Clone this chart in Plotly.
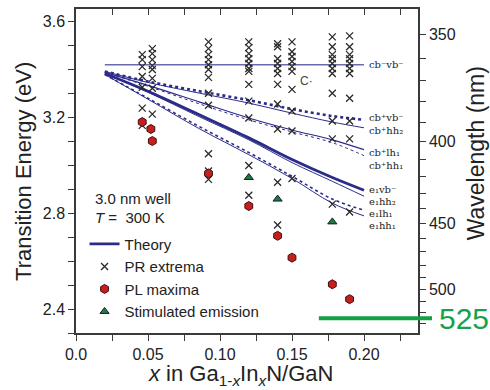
import plotly.graph_objects as go

# ---- Theory curves: transition energy (eV) vs In content x ----
x_theory = [0.02, 0.05, 0.086, 0.12, 0.15, 0.178, 0.20]
cbm_vbm = [3.418, 3.418, 3.418, 3.418, 3.418, 3.418, 3.418]
cbp_vbm = [3.390, 3.348, 3.307, 3.270, 3.233, 3.204, 3.188]
cbp_hh2 = [3.390, 3.344, 3.299, 3.258, 3.216, 3.179, 3.155]
cbp_lh1 = [3.386, 3.332, 3.262, 3.196, 3.146, 3.105, 3.064]
cbp_hh1 = [3.386, 3.328, 3.254, 3.188, 3.138, 3.093, 3.039]
e1_vbm = [3.381, 3.307, 3.208, 3.113, 3.023, 2.948, 2.895]
e1_hh2 = [3.381, 3.303, 3.200, 3.105, 3.010, 2.932, 2.870]
e1_lh1 = [3.377, 3.278, 3.159, 3.052, 2.953, 2.858, 2.812]
e1_hh1 = [3.377, 3.274, 3.150, 3.043, 2.944, 2.841, 2.788]

curve_labels = ["cb⁻vb⁻", "cb⁺vb⁻", "cb⁺hh₂", "cb⁺lh₁", "cb⁺hh₁",
                "e₁vb⁻", "e₁hh₂", "e₁lh₁", "e₁hh₁"]
label_energy = [3.418, 3.196, 3.143, 3.052, 2.998, 2.899, 2.849, 2.800, 2.746]

# ---- Photoreflectance extrema ----
pr_x = ([0.046] * 7 + [0.053] * 8 + [0.092] * 12 + [0.12] * 12 + [0.14] * 11 +
        [0.15] * 10 + [0.178] * 11 + [0.19] * 11)
pr_e = ([3.460, 3.439, 3.410, 3.369, 3.324, 3.237, 3.165] +
        [3.485, 3.464, 3.439, 3.414, 3.398, 3.361, 3.320, 3.212] +
        [3.513, 3.485, 3.460, 3.439, 3.418, 3.398, 3.365, 3.299, 3.249, 3.047, 2.940, 2.975] +
        [3.513, 3.489, 3.464, 3.443, 3.423, 3.402, 3.390, 3.336, 3.266, 3.196, 2.998, 2.874] +
        [3.505, 3.493, 3.443, 3.423, 3.402, 3.381, 3.336, 3.254, 3.150, 2.928, 2.750] +
        [3.513, 3.472, 3.452, 3.431, 3.410, 3.390, 3.315, 3.225, 3.142, 2.944] +
        [3.534, 3.493, 3.460, 3.443, 3.423, 3.402, 3.381, 3.299, 3.183, 3.109, 2.837] +
        [3.538, 3.493, 3.460, 3.443, 3.423, 3.402, 3.381, 3.278, 3.183, 3.109, 2.804])

# ---- Photoluminescence maxima ----
pl_x = [0.046, 0.052, 0.053, 0.092, 0.12, 0.14, 0.15, 0.178, 0.19]
pl_e = [3.179, 3.150, 3.100, 2.965, 2.829, 2.705, 2.614, 2.503, 2.441]

# ---- Stimulated emission ----
se_x = [0.12, 0.14, 0.178]
se_e = [2.948, 2.858, 2.763]

# ---- Axes ----
x_range = [0.0, 0.2375]
e_range = [2.30, 3.65]
x_major = [0.0, 0.05, 0.10, 0.15, 0.20]
x_major_text = ["0.0", "0.05", "0.10", "0.15", "0.20"]
x_minor = [0.025, 0.075, 0.125, 0.175, 0.225]
e_major = [2.4, 2.8, 3.2, 3.6]
e_minor = [2.3, 2.5, 2.6, 2.7, 2.9, 3.0, 3.1, 3.3, 3.4, 3.5]
wl_major = [350, 400, 450, 500]
wl_minor = [360, 370, 380, 390, 410, 420, 430, 440, 460, 470,
            480, 490, 510, 520, 530]
wl_marked = 525

HC = 1239.84  # eV*nm

NAVY = "#2b2b8a"
AX = "#3a3a3a"
FONT = "Liberation Sans, Arial, sans-serif"

fig = go.Figure()

# horizontal cb-vb- level
fig.add_trace(go.Scatter(x=x_theory, y=cbm_vbm, mode="lines",
                         line=dict(color="#6a6aae", width=1.5),
                         showlegend=False, hoverinfo="skip"))

styles = [
    (cbp_vbm, dict(color=NAVY, width=2.6, dash="dot")),
    (cbp_hh2, dict(color=NAVY, width=1.0)),
    (cbp_lh1, dict(color=NAVY, width=1.2)),
    (cbp_hh1, dict(color=NAVY, width=1.0, dash="dot")),
    (e1_vbm, dict(color=NAVY, width=2.8)),
    (e1_hh2, dict(color=NAVY, width=1.0)),
    (e1_lh1, dict(color=NAVY, width=1.6, dash="dot")),
    (e1_hh1, dict(color=NAVY, width=1.0)),
]
for i, (vals, ln) in enumerate(styles):
    fig.add_trace(go.Scatter(x=x_theory, y=vals, mode="lines", line=dict(shape="spline", **ln),
                             name="Theory", showlegend=(i == 4), hoverinfo="skip"))

fig.add_trace(go.Scatter(x=pr_x, y=pr_e, mode="markers", name="PR extrema",
                         marker=dict(symbol="x-thin-open", size=7, color="#2a2a2a",
                                     line=dict(width=1.3, color="#2a2a2a"))))
fig.add_trace(go.Scatter(x=pl_x, y=pl_e, mode="markers", name="PL maxima",
                         marker=dict(symbol="hexagon", size=9, color="#c81e1e",
                                     line=dict(width=1, color="#3a1010"))))
fig.add_trace(go.Scatter(x=se_x, y=se_e, mode="markers", name="Stimulated emission",
                         marker=dict(symbol="triangle-up", size=8, color="#1d7a3c",
                                     line=dict(width=1, color="#112233"))))
# companion axes (top ticks and wavelength scale)
fig.add_trace(go.Scatter(x=[None], y=[None], xaxis="x2", yaxis="y2",
                         showlegend=False, hoverinfo="skip"))

tick_style = dict(ticklen=6, tickwidth=1.3, tickcolor=AX)
axis_line = dict(showline=True, linecolor=AX, linewidth=1.5,
                 showgrid=False, zeroline=False, **tick_style)

fig.update_layout(
    width=490, height=390,
    margin=dict(l=76, r=72, t=7, b=57),
    paper_bgcolor="white", plot_bgcolor="white",
    font=dict(family=FONT, color="#222", size=16),
    xaxis=dict(range=x_range, tickmode="array", tickvals=x_major,
               ticktext=x_major_text, ticks="outside", mirror=True,
               minor=dict(tickvals=x_minor, ticks="outside", **tick_style),
               **axis_line),
    xaxis2=dict(range=x_range, overlaying="x", side="top", anchor="y",
                tickmode="array", tickvals=x_major, ticks="inside",
                showticklabels=False, showline=False, showgrid=False,
                zeroline=False,
                minor=dict(tickvals=x_minor, ticks="inside", **tick_style),
                **tick_style),
    yaxis=dict(range=e_range, tickmode="array", tickvals=e_major,
               ticktext=[f"{t:.1f}" for t in e_major], ticks="outside",
               minor=dict(tickvals=e_minor, ticks="outside", **tick_style),
               **axis_line),
    yaxis2=dict(range=e_range, overlaying="y", side="right", anchor="x",
                tickmode="array", tickvals=[HC / w for w in wl_major],
                ticktext=[str(w) for w in wl_major], ticks="outside",
                minor=dict(tickvals=[HC / w for w in wl_minor], ticks="outside",
                           **tick_style),
                **axis_line),
    legend=dict(x=0.025, y=0.325, xanchor="left", yanchor="top",
                bgcolor="rgba(0,0,0,0)", font=dict(size=15, color="#222"),
                itemwidth=30, tracegroupgap=0),
    showlegend=True,
)

ann = []
# curve labels at the right end of each theory curve
for txt, e in zip(curve_labels, label_energy):
    ann.append(dict(x=0.203, y=e, xref="x", yref="y", text=txt, showarrow=False,
                    xanchor="left", yanchor="middle", borderpad=0,
                    font=dict(size=10, color="#222", family="DejaVu Serif")))
ann.append(dict(x=0.16, y=3.348, xref="x", yref="y", text="C·", showarrow=False,
                font=dict(size=12, color="#444")))
# axis titles
ann.append(dict(x=-0.155, y=0.5, xref="paper", yref="paper", text="Transition Energy (eV)",
                textangle=-90, showarrow=False, xanchor="center", yanchor="middle",
                font=dict(size=22, color="#222")))
ann.append(dict(x=1.17, y=0.555, xref="paper", yref="paper", text="Wavelength (nm)",
                textangle=-90, showarrow=False, xanchor="center", yanchor="middle",
                font=dict(size=23, color="#222")))
ann.append(dict(x=0.48, y=-0.175, xref="paper", yref="paper",
                text="<i>x</i> in Ga<sub>1-<i>x</i></sub>In<sub><i>x</i></sub>N/GaN",
                showarrow=False, xanchor="center", yanchor="bottom", borderpad=0,
                font=dict(size=22, color="#222")))
# sample description
ann.append(dict(x=0.05, y=0.414, xref="paper", yref="paper", text="3.0 nm well",
                showarrow=False, xanchor="left", yanchor="middle", font=dict(size=15)))
ann.append(dict(x=0.05, y=0.356, xref="paper", yref="paper", text="<i>T</i> =  300 K",
                showarrow=False, xanchor="left", yanchor="middle", font=dict(size=15)))
# 525 nm marker
ann.append(dict(x=1.055, y=HC / wl_marked, xref="paper", yref="y", text=str(wl_marked),
                showarrow=False, xanchor="left", yanchor="middle",
                font=dict(size=30, color="#1aa04a")))
fig.update_layout(annotations=ann)

fig.add_shape(type="line", xref="paper", yref="y", x0=0.71, x1=1.041,
              y0=HC / wl_marked, y1=HC / wl_marked,
              line=dict(color="#14a044", width=4))

fig.write_html("out.html")
